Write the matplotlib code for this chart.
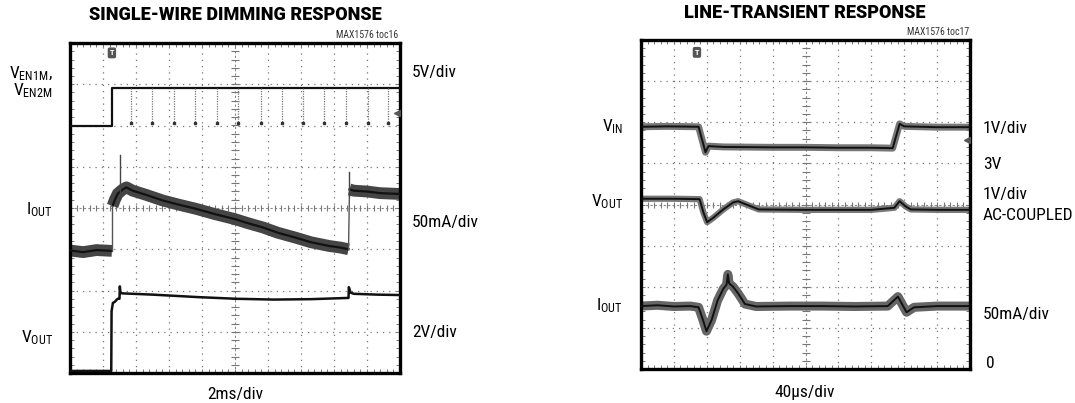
import matplotlib
matplotlib.use("Agg")
import matplotlib.pyplot as plt
from matplotlib import font_manager as fm
import numpy as np

# ---------------- data (in scope divisions: x 0..10, y 0..8) ----------------
# Left: single-wire dimming response
ven_x = [0.0, 1.27, 1.27, 10.0]
ven_y = [6.0, 6.0, 6.9, 6.9]
ven_pulse_x = [1.86, 2.49, 3.15, 3.80, 4.45, 5.10, 5.80, 6.41, 7.06, 7.71, 8.37, 9.03, 9.64]
ven_pulse_low = 6.0

iout_pre_x = [0.0, 0.4, 0.8, 1.27]
iout_pre_y = [2.97, 2.93, 2.98, 2.96]
iout_mid_x = [1.29, 1.36, 1.45, 1.6, 1.71, 1.9, 2.3, 2.82, 3.3, 3.82, 4.4, 5.0,
              5.4, 5.84, 6.3, 6.84, 7.3, 7.85, 8.2, 8.44]
iout_mid_y = [4.05, 4.2, 4.35, 4.45, 4.5, 4.42, 4.32, 4.18, 4.08, 3.98, 3.85, 3.73,
              3.63, 3.53, 3.4, 3.28, 3.17, 3.08, 3.04, 3.0]
iout_post_x = [8.47, 8.6, 9.0, 9.4, 10.0]
iout_post_y = [4.45, 4.42, 4.4, 4.36, 4.34]
iout_spike_x = [1.53, 8.45]
iout_spike_top = [5.28, 4.87]

voutL_x = [0.0, 1.25, 1.26, 1.30, 1.35, 1.42, 1.45, 1.50, 1.51, 1.53, 1.6, 2.5,
           3.87, 5.02, 6.17, 7.3, 8.44, 8.45, 8.5, 8.6, 9.3, 10.0]
voutL_y = [0.05, 0.05, 1.5, 1.7, 1.72, 1.78, 1.8, 1.8, 2.1, 1.94, 1.93, 1.9,
           1.84, 1.8, 1.78, 1.79, 1.82, 2.08, 1.95, 1.92, 1.9, 1.89]

# Right: line-transient response
vin_x = [0.0, 0.8, 1.75, 1.96, 2.05, 2.5, 4.0, 5.0, 6.0, 7.0, 7.65, 7.86, 8.0, 9.0, 10.0]
vin_y = [5.89, 5.9, 5.89, 5.27, 5.42, 5.4, 5.39, 5.39, 5.38, 5.38, 5.37, 5.96, 5.9, 5.88, 5.88]

voutR_x = [0.0, 1.0, 1.78, 1.9, 2.01, 2.2, 2.5, 2.8, 2.95, 3.2, 3.58, 5.0, 7.0,
           7.7, 7.86, 8.05, 8.2, 9.0, 10.0]
voutR_y = [4.14, 4.14, 4.13, 3.8, 3.57, 3.68, 3.88, 4.05, 4.08, 4.0, 3.88, 3.87, 3.87,
           3.92, 4.08, 3.95, 3.88, 3.87, 3.87]

ioutR_x = [0.0, 0.5, 1.0, 1.5, 1.75, 1.88, 1.99, 2.15, 2.33, 2.5, 2.6, 2.64, 2.68,
           2.8, 2.95, 3.16, 3.5, 4.5, 5.5, 6.5, 7.5, 7.81, 8.07, 8.3, 9.0, 10.0]
ioutR_y = [1.53, 1.55, 1.52, 1.53, 1.5, 1.2, 0.92, 1.2, 1.67, 1.95, 2.05, 2.3, 2.08,
           2.0, 1.84, 1.58, 1.52, 1.53, 1.53, 1.52, 1.53, 1.76, 1.38, 1.5, 1.53, 1.53]

titles = ["SINGLE-WIRE DIMMING RESPONSE", "LINE-TRANSIENT RESPONSE"]
tocs = ["MAX1576 toc16", "MAX1576 toc17"]

# ---------------- fonts ----------------
names = {f.name for f in fm.fontManager.ttflist}
cands = ["Liberation Sans Narrow", "Roboto Condensed", "Open Sans Condensed",
         "DejaVu Sans Condensed", "Liberation Sans"]
FONTNAME = next((c for c in cands if c in names), "DejaVu Sans")
FONT = [FONTNAME, "DejaVu Sans"]
TFONT = ["Roboto", "DejaVu Sans"] if "Roboto" in names else FONT
plt.rcParams["font.family"] = FONT
plt.rcParams["mathtext.fontset"] = "custom"
plt.rcParams["mathtext.rm"] = FONTNAME
plt.rcParams["mathtext.it"] = FONTNAME
plt.rcParams["mathtext.bf"] = FONTNAME + ":bold"

W, H = 1075, 403
fig = plt.figure(figsize=(W / 100, H / 100), dpi=100)


def fx(px):
    return px / W


def fy(py):
    return 1 - py / H


def scope_axes(left, top, right, bottom):
    ax = fig.add_axes([fx(left), fy(bottom), fx(right - left), (bottom - top) / H])
    ax.set_xlim(0, 10)
    ax.set_ylim(0, 8)
    ax.set_xticks([])
    ax.set_yticks([])
    for s in ax.spines.values():
        s.set_linewidth(2.4)
        s.set_color("black")
    grid_kw = dict(color="#777777", lw=0.9, ls=(0, (1, 4)), zorder=1)
    for i in range(1, 10):
        if i != 5:
            ax.axvline(i, **grid_kw)
    for j in range(1, 8):
        if j != 4:
            ax.axhline(j, **grid_kw)
    ax.axvline(5, color="#888888", lw=0.8, ls=(0, (2, 2)), zorder=1)
    ax.axhline(4, color="#888888", lw=0.8, ls=(0, (2, 2)), zorder=1)
    fine_x = np.arange(0.2, 10, 0.2)
    fine_y = np.arange(0.2, 8, 0.2)
    ax.plot(fine_x, np.full_like(fine_x, 4), ls="none", marker="|", ms=5,
            mew=0.8, color="#777777", zorder=1)
    ax.plot(np.full_like(fine_y, 5), fine_y, ls="none", marker="_", ms=6,
            mew=0.8, color="#777777", zorder=1)
    ax.plot(fine_x, np.full_like(fine_x, 0.06), ls="none", marker="|", ms=3,
            mew=0.7, color="#777777", zorder=1)
    ax.plot(fine_x, np.full_like(fine_x, 7.94), ls="none", marker="|", ms=3,
            mew=0.7, color="#777777", zorder=1)
    ax.plot(np.full_like(fine_y, 0.05), fine_y, ls="none", marker="_", ms=3,
            mew=0.7, color="#777777", zorder=1)
    ax.plot(np.full_like(fine_y, 9.95), fine_y, ls="none", marker="_", ms=3,
            mew=0.7, color="#777777", zorder=1)
    return ax


def trig(ax, x, y):
    ax.text(x, y, "T", fontsize=6, fontweight="bold", color="white",
            ha="center", va="center",
            bbox=dict(boxstyle="round,pad=0.15", fc="#555555", ec="#555555"))


def fuzzy(ax, xs, ys, band, core=1.4, band_color="#666666"):
    ax.plot(xs, ys, color=band_color, lw=band, solid_capstyle="butt", zorder=2)
    ax.plot(xs, ys, color="#111111", lw=core, zorder=3)


title_kw = dict(fontsize=13, fontweight="black", ha="center", va="center", family=TFONT)
lab = dict(fontsize=12.5, va="center")
toc_kw = dict(fontsize=7, ha="right", va="center", color="#333333")

# ---------------- left panel ----------------
axL = scope_axes(70, 43, 400, 373)
axL.plot(ven_x, ven_y, color="#111111", lw=1.6, zorder=3)
for px in ven_pulse_x:
    axL.plot([px, px], [ven_y[-1], ven_pulse_low], color="#777777", lw=0.9,
             ls=(0, (1, 1)), zorder=3)
    axL.plot([px], [ven_pulse_low + 0.05], marker="s", ms=2, color="#333333", zorder=3)

for xs, ys in [(iout_pre_x, iout_pre_y), (iout_mid_x, iout_mid_y), (iout_post_x, iout_post_y)]:
    fuzzy(axL, xs, ys, 8.5, core=1.6, band_color="#454545")
axL.plot([iout_pre_x[-1], iout_pre_x[-1]], [iout_pre_y[-1], iout_mid_y[0]],
         color="#555555", lw=1.0, zorder=3)
axL.plot([iout_mid_x[-1], iout_post_x[0]], [iout_mid_y[-1], iout_post_y[0]],
         color="#555555", lw=1.0, zorder=3)
for sx, st in zip(iout_spike_x, iout_spike_top):
    axL.plot([sx, sx], [4.3, st], color="#444444", lw=1.0, zorder=3)

axL.plot(voutL_x, voutL_y, color="#111111", lw=1.8, zorder=3)
trig(axL, 1.27, 7.76)
axL.plot([9.9], [6.3], marker="<", ms=4, color="#555555", zorder=4)

fig.text(fx(235), fy(15.5), titles[0], **title_kw)
fig.text(fx(398), fy(35.5), tocs[0], **toc_kw)
fig.text(fx(53), fy(74), r"$\mathrm{V_{EN1M}}$,", ha="right", **lab)
fig.text(fx(53), fy(91), r"$\mathrm{V_{EN2M}}$", ha="right", **lab)
fig.text(fx(53), fy(210), r"$\mathrm{I_{OUT}}$", ha="right", **lab)
fig.text(fx(53), fy(338), r"$\mathrm{V_{OUT}}$", ha="right", **lab)
fig.text(fx(412), fy(72), "5V/div", ha="left", **lab)
fig.text(fx(412), fy(222), "50mA/div", ha="left", **lab)
fig.text(fx(412), fy(333), "2V/div", ha="left", **lab)
fig.text(fx(235), fy(394), "2ms/div", ha="center", **lab)

# ---------------- right panel ----------------
axR = scope_axes(641, 40, 970, 369)
fuzzy(axR, vin_x, vin_y, 5.0, band_color="#777777")
fuzzy(axR, voutR_x, voutR_y, 4.5, band_color="#777777")
fuzzy(axR, ioutR_x, ioutR_y, 6.5, band_color="#666666")
trig(axR, 1.7, 7.7)
axR.plot([9.9], [5.56], marker="<", ms=4, color="#555555", zorder=4)

fig.text(fx(805), fy(13.5), titles[1], **title_kw)
fig.text(fx(969), fy(32), tocs[1], **toc_kw)
fig.text(fx(623), fy(127), r"$\mathrm{V_{IN}}$", ha="right", **lab)
fig.text(fx(623), fy(202), r"$\mathrm{V_{OUT}}$", ha="right", **lab)
fig.text(fx(623), fy(306), r"$\mathrm{I_{OUT}}$", ha="right", **lab)
fig.text(fx(983), fy(128), "1V/div", ha="left", **lab)
fig.text(fx(983), fy(164), "3V", ha="left", **lab)
fig.text(fx(983), fy(194), "1V/div", ha="left", **lab)
fig.text(fx(983), fy(215), "AC-COUPLED", ha="left", **lab)
fig.text(fx(983), fy(314), "50mA/div", ha="left", **lab)
fig.text(fx(986), fy(363), "0", ha="left", **lab)
fig.text(fx(805), fy(392), "40\u03bcs/div", ha="center", **lab)

fig.savefig("out.png", dpi=100, facecolor="white")
